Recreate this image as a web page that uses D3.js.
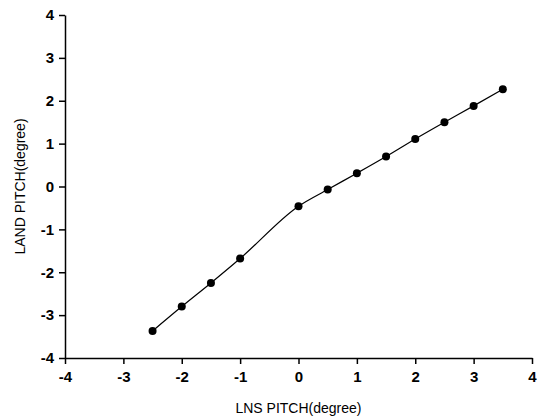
<!DOCTYPE html>
<html>
<head>
<meta charset="utf-8">
<script src="https://cdn.jsdelivr.net/npm/d3@7"></script>
<style>
    body { margin: 0; background: #fff; }
    svg { display: block; }
    .domain, .tick line { stroke: #000; stroke-width: 1.5px; }
</style>
</head>
<body>
<div id="chart"></div>
<script>

// LNS pitch vs LAND pitch (degree)
var lnsPitch  = [ -2.5, -2, -1.5, -1, 0, 0.5, 1, 1.5, 2, 2.5, 3, 3.5 ];
var landPitch = [ -3.37, -2.80, -2.25, -1.68, -0.46, -0.07, 0.31, 0.70, 1.11, 1.50, 1.88, 2.27 ];
var xTicks = [ -4, -3, -2, -1, 0, 1, 2, 3, 4 ];
var yTicks = [ -4, -3, -2, -1, 0, 1, 2, 3, 4 ];

var width = 547,
    height = 420,
    margin = { top: 15, right: 15, bottom: 62, left: 65 };

var x = d3.scaleLinear()
    .domain([ -4, 4 ])
    .range([ margin.left, width - margin.right ]);

var y = d3.scaleLinear()
    .domain([ -4, 4 ])
    .range([ height - margin.bottom, margin.top ]);

var svg = d3.select('#chart').append('svg')
    .attr('width', width)
    .attr('height', height);

// plain hyphen instead of d3's unicode minus
var fmt = function ( d ) { return String( d ); };

svg.append('g')
    .attr('transform', 'translate(0,' + ( height - margin.bottom ) + ')')
    .call( d3.axisBottom( x ).tickValues( xTicks ).tickFormat( fmt ).tickSize( 6 ).tickPadding( 7 ).tickSizeOuter( 0 ) );

svg.append('g')
    .attr('transform', 'translate(' + margin.left + ',0)')
    .call( d3.axisLeft( y ).tickValues( yTicks ).tickFormat( fmt ).tickSize( 6 ).tickPadding( 5 ).tickSizeOuter( 0 ) );

svg.selectAll('.tick text')
    .attr('font-family', 'Arial, "Liberation Sans", sans-serif')
    .attr('font-weight', 'bold')
    .attr('font-size', 15)
    .attr('fill', '#000');

var points = lnsPitch.map( function ( d, i ) { return [ d, landPitch[ i ] ]; });

var line = d3.line()
    .x( function ( d ) { return x( d[0] ); })
    .y( function ( d ) { return y( d[1] ); })
    .curve( d3.curveMonotoneX );

svg.append('path')
    .datum( points )
    .attr('d', line)
    .attr('fill', 'none')
    .attr('stroke', '#000')
    .attr('stroke-width', 1.2);

svg.selectAll('.dot')
    .data( points )
    .enter().append('circle')
    .attr('class', 'dot')
    .attr('cx', function ( d ) { return x( d[0] ); })
    .attr('cy', function ( d ) { return y( d[1] ); })
    .attr('r', 4)
    .attr('fill', '#000');

// axis titles

svg.append('text')
    .attr('x', x( 0 ))
    .attr('y', 413)
    .attr('text-anchor', 'middle')
    .style('font-family', 'Arial, "Liberation Sans", sans-serif')
    .style('font-size', '14px')
    .text('LNS PITCH(degree)');

svg.append('text')
    .attr('transform', 'translate(25,' + y( 0 ) + ') rotate(-90)')
    .attr('text-anchor', 'middle')
    .style('font-family', 'Arial, "Liberation Sans", sans-serif')
    .style('font-size', '14px')
    .text('LAND PITCH(degree)');

</script>
</body>
</html>
